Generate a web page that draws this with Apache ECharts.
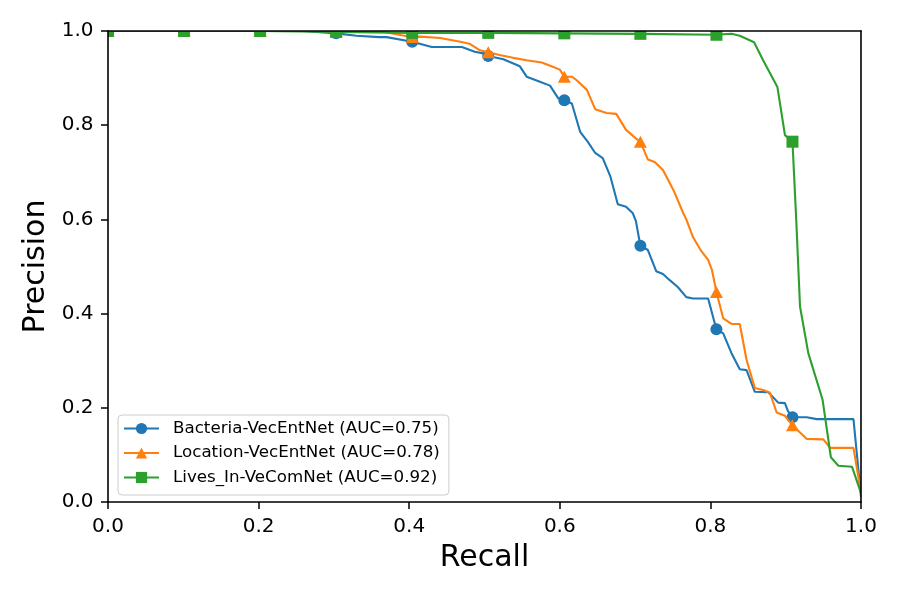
<!DOCTYPE html>
<html>
<head>
<meta charset="utf-8">
<script src="https://cdn.jsdelivr.net/npm/echarts@6/dist/echarts.min.js"></script>
<style>
html, body { margin: 0; padding: 0; background: #fff; }
#main { width: 900px; height: 600px; }
</style>
</head>
<body>
<div id="main"></div>
<script>
// PR curves, [recall, precision]
var bacteriaPR = [
    [0, 1], [0.101, 1], [0.202, 1], [0.26, 1.0], [0.303, 0.995], [0.33, 0.99], [0.36, 0.987], [0.37, 0.987],
    [0.404, 0.977], [0.43, 0.966], [0.47, 0.966], [0.487, 0.956], [0.5, 0.952], [0.505, 0.947],
    [0.525, 0.94], [0.547, 0.925], [0.556, 0.903], [0.571, 0.894], [0.587, 0.884], [0.598, 0.857],
    [0.606, 0.853], [0.616, 0.846], [0.627, 0.786], [0.637, 0.765], [0.647, 0.741], [0.657, 0.730],
    [0.667, 0.692], [0.677, 0.632], [0.688, 0.627], [0.697, 0.613], [0.701, 0.597], [0.707, 0.544],
    [0.717, 0.535], [0.728, 0.490], [0.737, 0.484], [0.746, 0.471], [0.757, 0.456], [0.768, 0.435],
    [0.777, 0.432], [0.797, 0.432], [0.804, 0.390], [0.808, 0.367], [0.817, 0.358], [0.828, 0.316],
    [0.839, 0.282], [0.848, 0.280], [0.859, 0.234], [0.877, 0.233], [0.890, 0.211], [0.899, 0.210],
    [0.903, 0.193], [0.909, 0.180], [0.928, 0.180], [0.941, 0.176], [0.990, 0.176], [1.0, 0.011]
];
var locationPR = [
    [0, 1], [0.101, 1], [0.202, 1], [0.303, 1], [0.36, 1.0], [0.39, 0.991], [0.404, 0.987],
    [0.415, 0.988], [0.441, 0.985], [0.468, 0.977], [0.48, 0.973], [0.494, 0.959], [0.505, 0.955],
    [0.52, 0.949], [0.538, 0.943], [0.556, 0.938], [0.576, 0.933], [0.589, 0.925], [0.6, 0.918],
    [0.606, 0.903], [0.616, 0.903], [0.622, 0.896], [0.636, 0.875], [0.647, 0.834], [0.662, 0.826],
    [0.675, 0.824], [0.688, 0.790], [0.701, 0.772], [0.707, 0.765], [0.717, 0.727], [0.726, 0.722],
    [0.737, 0.705], [0.751, 0.662], [0.764, 0.613], [0.768, 0.600], [0.777, 0.562], [0.787, 0.535],
    [0.797, 0.514], [0.802, 0.493], [0.808, 0.446], [0.817, 0.390], [0.828, 0.378], [0.839, 0.378],
    [0.848, 0.302], [0.859, 0.242], [0.870, 0.238], [0.879, 0.232], [0.888, 0.190], [0.899, 0.183],
    [0.909, 0.163], [0.928, 0.134], [0.95, 0.133], [0.959, 0.115], [0.99, 0.115], [1.0, 0.02]
];
var livesInPR = [
    [0, 1.0], [0.101, 1.0], [0.202, 1.0], [0.303, 0.998], [0.404, 0.996], [0.505, 0.996],
    [0.606, 0.995], [0.707, 0.994], [0.808, 0.992], [0.828, 0.994], [0.839, 0.990], [0.858, 0.976],
    [0.870, 0.938], [0.889, 0.881], [0.899, 0.779], [0.909, 0.765], [0.914, 0.599], [0.919, 0.415],
    [0.930, 0.316], [0.949, 0.217], [0.960, 0.095], [0.970, 0.077], [0.988, 0.075], [1.0, 0.019]
];
// recall values carrying a marker
var markRecall = [0, 0.101, 0.202, 0.303, 0.404, 0.505, 0.606, 0.707, 0.808, 0.909];

var seriesNames = ['Bacteria-VecEntNet (AUC=0.75)', 'Location-VecEntNet (AUC=0.78)', 'Lives_In-VeComNet (AUC=0.92)'];
var seriesColors = ['#1f77b4', '#ff7f0e', '#2ca02c'];
var seriesSymbols = ['circle', 'triangle', 'rect'];
var symbolSizes = [12, [13, 12], 12];

function withMarks(pr) {
    return pr.map(function (p) {
        if (markRecall.indexOf(p[0]) >= 0) return { value: p };
        return { value: p, symbol: 'none' };
    });
}

var allData = [bacteriaPR, locationPR, livesInPR];
var series = [];
for (var i = 0; i < allData.length; i++) {
    series.push({
        name: seriesNames[i],
        type: 'line',
        data: withMarks(allData[i]),
        symbol: seriesSymbols[i],
        symbolSize: symbolSizes[i],
        showSymbol: true,
        clip: false,
        z: 2 + i,
        itemStyle: { color: seriesColors[i] },
        lineStyle: { color: seriesColors[i], width: 2.1 },
        emphasis: { disabled: true }
    });
}

// plot box (pixels) - markers are clipped to it like matplotlib
var gL = 108, gR = 861, gT = 31, gB = 502;
function mask(x, y, w, h) {
    return { type: 'rect', z: 10, silent: true, shape: { x: x, y: y, width: w, height: h }, style: { fill: '#fff' } };
}

var chart = echarts.init(document.getElementById('main'));
var tickFont = { color: '#000', fontSize: 20, fontFamily: 'DejaVu Sans' };
var nameFont = { color: '#000', fontSize: 30, fontFamily: 'DejaVu Sans' };
var spine = { show: true, onZero: false, lineStyle: { color: '#000', width: 1.6 } };
function fmt(v) { return v.toFixed(1); }

chart.setOption({
    animation: false,
    textStyle: { fontFamily: 'DejaVu Sans' },
    grid: { left: gL, right: 900 - gR, top: gT, bottom: 600 - gB },
    graphic: [
        mask(0, 0, 900, gT), mask(0, gB, 900, 600 - gB),
        mask(0, 0, gL, 600), mask(gR, 0, 900 - gR, 600)
    ],
    legend: {
        z: 30,
        orient: 'vertical',
        left: 118, top: 415,
        itemWidth: 35, itemHeight: 14, itemGap: 7.5,
        padding: [5, 9, 9, 5],
        borderColor: '#cccccc', borderWidth: 1, borderRadius: 4,
        backgroundColor: 'rgba(255,255,255,0.85)',
        textStyle: { color: '#000', fontSize: 16.7, lineHeight: 17, fontFamily: 'DejaVu Sans', padding: [0, 0, 0, 9] },
        data: seriesNames
    },
    xAxis: [{
        type: 'value', min: 0, max: 1, interval: 0.2, z: 20,
        name: 'Recall', nameLocation: 'middle', nameGap: 41,
        nameTextStyle: nameFont,
        axisLine: spine,
        axisTick: { show: true, length: 7, lineStyle: { color: '#000', width: 1.5 } },
        axisLabel: Object.assign({ margin: 15, formatter: fmt }, tickFont),
        splitLine: { show: false }
    }, {
        type: 'value', min: 0, max: 1, position: 'top', z: 20,
        axisLine: spine, axisTick: { show: false }, axisLabel: { show: false }, splitLine: { show: false }
    }],
    yAxis: [{
        type: 'value', min: 0, max: 1, interval: 0.2, z: 20,
        name: 'Precision', nameLocation: 'middle', nameGap: 55,
        nameTextStyle: nameFont,
        axisLine: spine,
        axisTick: { show: true, length: 7, lineStyle: { color: '#000', width: 1.5 } },
        axisLabel: Object.assign({ margin: 14.5, formatter: fmt }, tickFont),
        splitLine: { show: false }
    }, {
        type: 'value', min: 0, max: 1, position: 'right', z: 20,
        axisLine: spine, axisTick: { show: false }, axisLabel: { show: false }, splitLine: { show: false }
    }],
    series: series
});
</script>
</body>
</html>
